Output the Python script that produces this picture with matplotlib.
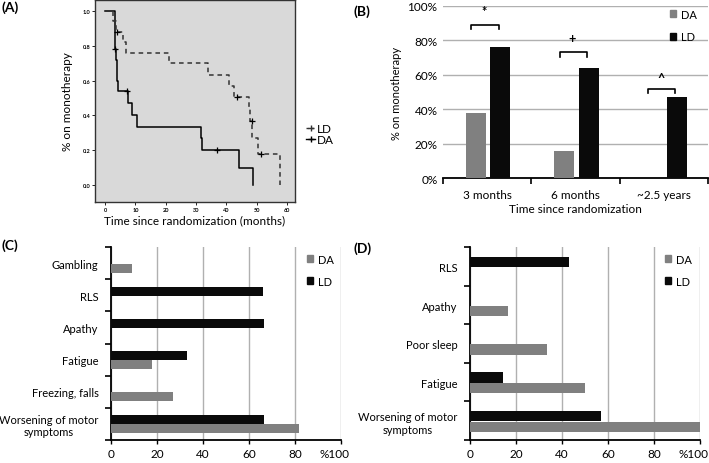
import numpy as np
import matplotlib
matplotlib.use("Agg")
import matplotlib.pyplot as plt
from matplotlib.lines import Line2D
from matplotlib.patches import Patch

plt.rcParams['font.family'] = ['Lato', 'DejaVu Sans']

# (A) Kaplan-Meier, time on monotherapy
da_t = [0, 3.3, 3.5, 3.8, 4.3, 7.5, 8.8, 10.4, 31.6, 32.1, 44.3]
da_s = [1.0, 0.78, 0.72, 0.60, 0.54, 0.47, 0.40, 0.335, 0.27, 0.20, 0.10]
da_end = 48.6
da_cens_t = [3.3, 7.3, 36.8]
da_cens_s = [0.78, 0.54, 0.20]

ld_t = [0, 2.7, 3.6, 5.8, 6.9, 21.2, 34.0, 40.9, 42.6, 47.3, 47.9, 48.3, 50.5, 51.1]
ld_s = [1.0, 0.94, 0.88, 0.82, 0.76, 0.70, 0.635, 0.57, 0.505, 0.44, 0.37, 0.27, 0.18, 0.18]
ld_end = 57.8
ld_cens_t = [4.1, 43.6, 48.4, 51.3]
ld_cens_s = [0.88, 0.505, 0.37, 0.18]

# (B) % on monotherapy at time points
b_cats = ['3 months', '6 months', '~2.5 years']
b_da = [38, 16, 0]
b_ld = [76, 64, 47]
b_sig = ['*', '+', '^']
b_sig_y = [89, 73, 52]

# (C) reasons DA / LD
c_cats = ['Gambling', 'RLS', 'Apathy', 'Fatigue', 'Freezing, falls',
          'Worsening of motor\nsymptoms']
c_da = [9, 0, 0, 17.7, 27, 81.7]
c_ld = [0, 66, 66.5, 33.2, 0, 66.5]

# (D)
d_cats = ['RLS', 'Apathy', 'Poor sleep', 'Fatigue', 'Worsening of motor\nsymptoms']
d_da = [0, 16.7, 33.3, 50, 100]
d_ld = [43, 0, 0, 14.3, 57.1]

DA_COL = '#808080'
LD_COL = '#0a0a0a'
GRID = '#b0b0b0'

W, H = 709, 464
fig = plt.figure(figsize=(W / 100, H / 100), dpi=100)


def box(l, t, r, b):
    return [l / W, 1 - b / H, (r - l) / W, (b - t) / H]


# ---------- (A)
ax = fig.add_axes(box(95, 1, 295, 203))
ax.set_facecolor('#d9d9d9')
ax.step(da_t + [da_end, da_end], da_s + [da_s[-1], 0], where='post', color='black', lw=1.1)
ax.step(ld_t + [ld_end, ld_end], ld_s + [ld_s[-1], 0], where='post', color='#333333',
        lw=1.1, ls=(0, (3, 2.5)))
ax.plot(da_cens_t, da_cens_s, '+', color='black', ms=5, mew=0.9)
ax.plot(ld_cens_t, ld_cens_s, '+', color='black', ms=5, mew=0.9)
ax.set_xlim(-3.3, 62.6)
ax.set_ylim(-0.097, 1.063)
ax.set_xticks(range(0, 61, 10))
ax.set_yticks(np.arange(0, 1.01, 0.2))
ax.set_yticklabels([f'{v:.1f}' for v in np.arange(0, 1.01, 0.2)])
ax.tick_params(labelsize=4, length=2, width=0.6, pad=1.5)
for lbl in ax.get_xticklabels() + ax.get_yticklabels():
    lbl.set_fontweight('bold')
for s in ax.spines.values():
    s.set_linewidth(1.0)
    s.set_color('#333333')
ax.set_ylabel('% on monotherapy', fontsize=8.5, labelpad=7)
ax.set_xlabel('Time since randomization (months)', fontsize=8.5, labelpad=2)
ha = [Line2D([], [], color='#333333', ls=(0, (2, 1.5)), lw=1, marker='+', ms=4),
      Line2D([], [], color='black', lw=1, marker='+', ms=4)]
fig.legend(ha, ['LD', 'DA'], loc='center left', bbox_to_anchor=(300 / W, 1 - 135 / H),
           frameon=False, fontsize=8.5, handlelength=0.8, handletextpad=0.1,
           labelspacing=0.0, borderpad=0)

# ---------- (B)
ax = fig.add_axes(box(443, 6.7, 708, 179.3))
x = np.arange(len(b_cats))
ax.bar(x - 0.13, b_da, 0.225, color=DA_COL, zorder=3, label='DA')
ax.bar(x + 0.15, b_ld, 0.225, color=LD_COL, zorder=3, label='LD')
for xi, sy, sm in zip(x, b_sig_y, b_sig):
    l, r = xi - 0.18, xi + 0.13
    ax.plot([l, l, r, r], [sy - 2.5, sy, sy, sy - 2.5], color='black', lw=1.2, zorder=4)
    ax.text((l + r) / 2 - 0.01, sy + 8 if sm != '^' else sy + 6, sm, ha='center',
            va='center', fontsize=9, fontweight='bold')
ax.set_xlim(-0.5, 2.5)
ax.set_ylim(0, 100)
ax.set_yticks(range(0, 101, 20))
ax.set_yticklabels([f'{v}%' for v in range(0, 101, 20)])
ax.yaxis.grid(True, color=GRID, lw=1)
ax.set_axisbelow(True)
ax.set_xticks(x)
ax.set_xticklabels(b_cats)
ax.set_xticks([-0.5, 0.5, 1.5, 2.5], minor=True)
ax.tick_params(axis='x', which='major', length=0, pad=8, labelsize=8.5)
ax.tick_params(axis='x', which='minor', length=4, width=1.2)
ax.tick_params(axis='y', length=0, labelsize=8.5, pad=4)
for s in ['left', 'right', 'top']:
    ax.spines[s].set_visible(False)
ax.spines['bottom'].set_linewidth(1.3)
ax.set_ylabel('% on monotherapy', fontsize=8, labelpad=4)
ax.set_xlabel('Time since randomization', fontsize=8.5, labelpad=2)
ax.legend(handles=[Patch(color=DA_COL, label='DA'), Patch(color=LD_COL, label='LD')],
          loc='upper left', bbox_to_anchor=(664 / W, 1 - 4 / H), bbox_transform=fig.transFigure,
          frameon=False, fontsize=8, handlelength=0.6, handleheight=0.6,
          handletextpad=0.4, labelspacing=1.05, borderpad=0)


# ---------- (C) and (D)
def hbars(rect, cats, da, ld, leg_xy):
    ax = fig.add_axes(box(*rect))
    n = len(cats)
    y = n - 1 - np.arange(n)
    ax.barh(y - 0.155, da, 0.27, color=DA_COL, zorder=3, label='DA')
    ax.barh(y + 0.125, ld, 0.27, color=LD_COL, zorder=3, label='LD')
    ax.set_ylim(-0.5, n - 0.5)
    ax.set_xlim(0, 100)
    ax.set_xticks(range(0, 101, 20))
    ax.set_xticklabels(['0', '20', '40', '60', '80', ''])
    # the last label sits a little left of its tick in the original
    ax.annotate('%100', xy=(100, 0), xycoords=('data', 'axes fraction'),
                xytext=(-4.5, -6), textcoords='offset points', ha='center', va='top',
                fontsize=8.5, annotation_clip=False)
    ax.xaxis.grid(True, color=GRID, lw=1)
    ax.set_axisbelow(True)
    ax.set_yticks(y)
    ax.set_yticklabels(cats)
    for lbl in ax.get_yticklabels():
        lbl.set_multialignment('center')
    ax.set_yticks(np.arange(-0.5, n, 1), minor=True)
    ax.tick_params(axis='y', which='major', length=0, pad=9, labelsize=8)
    ax.tick_params(axis='y', which='minor', length=4, width=1.2)
    ax.tick_params(axis='x', length=3, width=1, labelsize=8.5, pad=3)
    for s in ['right', 'top']:
        ax.spines[s].set_visible(False)
    ax.spines['left'].set_linewidth(1.3)
    ax.spines['bottom'].set_linewidth(1.3)
    ax.legend(handles=[Patch(color=DA_COL, label='DA'), Patch(color=LD_COL, label='LD')],
              loc='upper left', bbox_to_anchor=(leg_xy[0] / W, 1 - leg_xy[1] / H),
              bbox_transform=fig.transFigure, frameon=False, fontsize=8,
              handlelength=0.6, handleheight=0.6, handletextpad=0.4,
              labelspacing=1.0, borderpad=0)
    return ax


hbars((111, 248.3, 340.7, 440.7), c_cats, c_da, c_ld, (301, 249))
hbars((470, 248.3, 700, 441), d_cats, d_da, d_ld, (659, 249))

# panel letters
for lab, px, py in [('(A)', 1, 8), ('(B)', 353, 12), ('(C)', 1, 246), ('(D)', 353, 249)]:
    fig.text(px / W, 1 - py / H, lab, fontsize=10, fontweight='bold', va='center', ha='left')

fig.savefig('out.png', dpi=100)
